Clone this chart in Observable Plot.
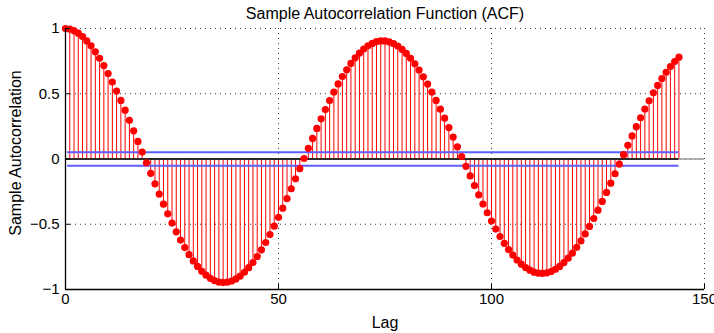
<!DOCTYPE html>
<html>
<head>
<meta charset="utf-8">
<script src="https://cdn.jsdelivr.net/npm/d3@7"></script>
<script src="https://cdn.jsdelivr.net/npm/@observablehq/plot@0.6"></script>
<style>
  html, body { margin: 0; padding: 0; background: #fff; }
  #chart svg { display: block; }
</style>
</head>
<body>
<div id="chart"></div>
<script>
// ---- data ----
const acf = [
  1.000, 0.995, 0.983, 0.964, 0.938, 0.905, 0.867, 0.822, 0.772, 0.716,
  0.655, 0.590, 0.521, 0.449, 0.374, 0.296, 0.216, 0.135, 0.053, -0.029,
  -0.110, -0.190, -0.269, -0.346, -0.420, -0.491, -0.558, -0.621, -0.679, -0.733,
  -0.781, -0.823, -0.860, -0.890, -0.914, -0.932, -0.943, -0.947, -0.944, -0.935,
  -0.919, -0.897, -0.868, -0.833, -0.793, -0.747, -0.696, -0.640, -0.579, -0.515,
  -0.447, -0.377, -0.303, -0.228, -0.152, -0.074, 0.004, 0.082, 0.158, 0.234,
  0.308, 0.379, 0.448, 0.513, 0.575, 0.632, 0.684, 0.732, 0.775, 0.812,
  0.843, 0.868, 0.886, 0.899, 0.905, 0.905, 0.898, 0.885, 0.866, 0.840,
  0.809, 0.772, 0.730, 0.682, 0.630, 0.574, 0.513, 0.449, 0.382, 0.313,
  0.241, 0.168, 0.094, 0.019, -0.056, -0.130, -0.204, -0.275, -0.345, -0.412,
  -0.476, -0.537, -0.594, -0.646, -0.694, -0.736, -0.774, -0.806, -0.832, -0.852,
  -0.867, -0.875, -0.876, -0.872, -0.862, -0.845, -0.823, -0.794, -0.760, -0.721,
  -0.677, -0.628, -0.574, -0.517, -0.456, -0.392, -0.325, -0.256, -0.185, -0.113,
  -0.040, 0.033, 0.105, 0.177, 0.248, 0.316, 0.383, 0.446, 0.507, 0.564,
  0.616, 0.664, 0.708, 0.747, 0.780
];
const lags = acf.map((_, i) => i);
const upperBound = 0.051;
const lowerBound = -0.051;
const boundRange = [0.5, 144];    // lag extent of bound lines
const xTicks = [0, 50, 100, 150];
const yTicks = [-1, -0.5, 0, 0.5, 1];
const titleText = "Sample Autocorrelation Function (ACF)";
const xLabel = "Lag";
const yLabel = "Sample Autocorrelation";

// ---- build table ----
const rows = lags.map((k, i) => ({lag: k, r: acf[i]}));

const W = 714, H = 333, mL = 65, mR = 10, mT = 28, mB = 44;
const fmt = d => String(d).replace("-", "\u2212");
const blue = "#5c5cff";

const chart = Plot.plot({
  width: W, height: H,
  marginLeft: mL, marginRight: mR, marginTop: mT, marginBottom: mB,
  style: {fontFamily: "'Liberation Sans', Arial, sans-serif", fontSize: "15px", color: "#000", background: "#fff", overflow: "visible"},
  x: {domain: [0, 150]},
  y: {domain: [-1, 1]},
  marks: [
    // dotted grid
    Plot.ruleX(xTicks.slice(1), {stroke: "#333", strokeDasharray: "1,4", strokeWidth: 1}),
    Plot.ruleY(yTicks.slice(1), {stroke: "#333", strokeDasharray: "1,4", strokeWidth: 1}),
    // stems
    Plot.ruleX(rows, {x: "lag", y1: 0, y2: "r", stroke: "red", strokeWidth: 1}),
    // baseline
    Plot.ruleY([0], {x1: 0, x2: 150, stroke: "#999", strokeWidth: 1.5}),
    Plot.ruleY([0], {x1: 0, x2: lags[lags.length - 1], stroke: "#000", strokeWidth: 1.5}),
    // confidence bounds
    Plot.ruleY([upperBound], {x1: boundRange[0], x2: boundRange[1], stroke: blue, strokeWidth: 2}),
    Plot.ruleY([lowerBound], {x1: boundRange[0], x2: boundRange[1], stroke: blue, strokeWidth: 2}),
    // markers
    Plot.dot(rows, {x: "lag", y: "r", r: 3.6, fill: "red", stroke: "none"}),
    // axis lines
    Plot.ruleX([0], {stroke: "#000", strokeWidth: 1.3}),
    Plot.ruleY([-1], {stroke: "#000", strokeWidth: 1.3}),
    // inward ticks
    Plot.ruleY(yTicks, {insetRight: W - mL - mR - 5, stroke: "#000", strokeWidth: 1}),
    Plot.ruleX(xTicks, {insetTop: H - mT - mB - 5, stroke: "#000", strokeWidth: 1}),
    // tick labels
    Plot.axisX(xTicks, {tickSize: 0, tickPadding: 4, tickFormat: fmt, fontSize: 15, label: null}),
    Plot.axisY(yTicks, {tickSize: 0, tickPadding: 6, tickFormat: fmt, fontSize: 15, label: null}),
    // titles
    Plot.text([titleText], {frameAnchor: "top", lineAnchor: "middle", dy: -15, fontSize: 16}),
    Plot.text([xLabel], {frameAnchor: "bottom", lineAnchor: "middle", dy: 33, fontSize: 16}),
    Plot.text([yLabel], {frameAnchor: "left", textAnchor: "middle", lineAnchor: "middle", dx: -50, dy: -6, rotate: -90, fontSize: 16})
  ]
});
document.getElementById("chart").appendChild(chart);
</script>
</body>
</html>
